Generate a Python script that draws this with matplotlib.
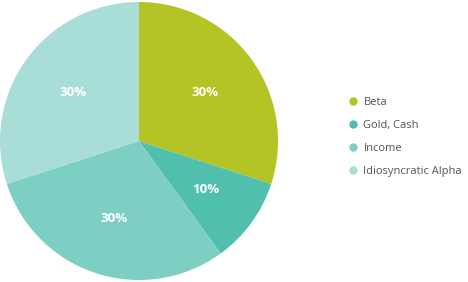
import matplotlib
matplotlib.use("Agg")
import matplotlib.pyplot as plt
from matplotlib.lines import Line2D

categories = ["Beta", "Gold, Cash", "Income", "Idiosyncratic Alpha"]
values = [30, 10, 30, 30]
colors = ["#b4c424", "#50bfad", "#7ccfc2", "#a9ddd8"]

W, H = 468, 282
fig = plt.figure(figsize=(W / 100, H / 100), dpi=100)
ax = fig.add_axes([0, 2 / H, 278 / W, 278 / H])
ax.pie(values, colors=colors, startangle=90, counterclock=False, radius=1,
       labels=[f"{v}%" for v in values], labeldistance=0.59,
       textprops=dict(color="white", fontsize=9.5, fontweight="bold", family="Open Sans",
                      ha="center", va="center"),
       wedgeprops=dict(linewidth=0))
ax.set_xlim(-1, 1)
ax.set_ylim(-1, 1)
ax.set_aspect("equal")
ax.axis("off")

handles = [Line2D([], [], marker="o", linestyle="", markersize=6, markerfacecolor=c,
                  markeredgewidth=0) for c in colors]
fig.legend(handles, categories, loc="upper left", bbox_to_anchor=(344 / W, 1 - 91 / H),
           frameon=False, handlelength=0.6, handletextpad=0.65, labelspacing=1.1,
           prop=dict(family="Open Sans", size=8), labelcolor="#555555", borderpad=0)

fig.savefig("out.png", dpi=100)
